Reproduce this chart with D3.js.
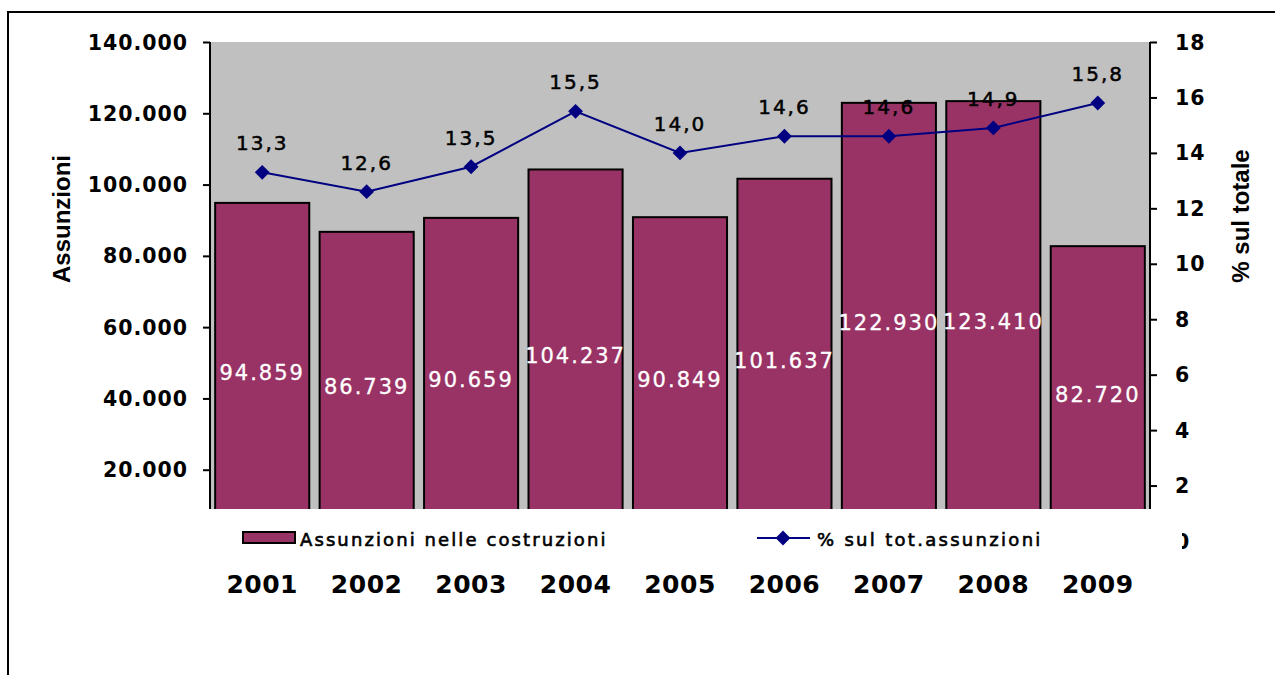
<!DOCTYPE html>
<html>
<head>
<meta charset="utf-8">
<script src="https://cdn.jsdelivr.net/npm/d3@7"></script>
<style>
  body { margin: 0; background: #fff; }
  svg text { font-family: "DejaVu Sans", Verdana, sans-serif; }
</style>
</head>
<body>
<svg id="chart" width="1275" height="675"></svg>
<script>
"use strict";

// data
var years = ["2001", "2002", "2003", "2004", "2005", "2006", "2007", "2008", "2009"];
var hires = [94859, 86739, 90659, 104237, 90849, 101637, 122930, 123410, 82720];
var share = [13.3, 12.6, 13.5, 15.5, 14.0, 14.6, 14.6, 14.9, 15.8];
var leftTicks = [20000, 40000, 60000, 80000, 100000, 120000, 140000];
var rightTicks = [0, 2, 4, 6, 8, 10, 12, 14, 16, 18];

var svg = d3.select("#chart");

var plotL = 210, plotR = 1150, plotT = 42, zeroY = 541, clipB = 509;

var fmtIt = v => d3.format(",")(v).replace(/,/g, ".");
var fmtDec = v => v.toFixed(1).replace(".", ",");

// outer frame
svg.append("rect")
    .attr("x", 8).attr("y", 12).attr("width", 1400).attr("height", 800)
    .attr("fill", "none").attr("stroke", "#000").attr("stroke-width", 2);

var x = d3.scaleBand().domain(years).range([plotL, plotR]).paddingInner(0.08).paddingOuter(0.04);
var xc = d3.scaleBand().domain(years).range([plotL, plotR]);
var yL = d3.scaleLinear().domain([0, 140000]).range([zeroY, plotT]);
var yR = d3.scaleLinear().domain([0, 18]).range([zeroY, plotT]);

svg.append("clipPath").attr("id", "plotClip")
    .append("rect").attr("x", plotL - 10).attr("y", plotT - 5)
    .attr("width", plotR - plotL + 20).attr("height", clipB - plotT + 5);

var plot = svg.append("g").attr("clip-path", "url(#plotClip)");

plot.append("rect")
    .attr("x", plotL).attr("y", plotT)
    .attr("width", plotR - plotL).attr("height", zeroY - plotT)
    .attr("fill", "#c0c0c0");

var bars = years.map((y, i) => ({year: y, v: hires[i], p: share[i]}));

plot.selectAll("rect.bar").data(bars).enter().append("rect")
    .attr("class", "bar")
    .attr("x", d => x(d.year) + 1)
    .attr("y", d => yL(d.v))
    .attr("width", x.bandwidth() - 2)
    .attr("height", d => zeroY - yL(d.v))
    .attr("fill", "#993366")
    .attr("stroke", "#000").attr("stroke-width", 2);

// axes
var axL = d3.axisLeft(yL).tickValues(leftTicks).tickSize(7).tickFormat("");
var gL = plot.append("g").attr("transform", "translate(" + plotL + ",0)").call(axL);
var gR = plot.append("g").attr("transform", "translate(" + plotR + ",0)")
    .call(d3.axisRight(yR).tickValues(rightTicks).tickSize(7).tickFormat(""));
[gL, gR].forEach(g => {
    g.select(".domain").attr("stroke", "#000").attr("stroke-width", 2)
        .attr("d", "M0," + plotT + "V" + zeroY);
    g.selectAll(".tick line").attr("stroke", "#000").attr("stroke-width", 2);
});

// tick labels (outside clip)
svg.append("g").selectAll("text").data(leftTicks).enter().append("text")
    .attr("x", 188).attr("y", d => yL(d) + 7.5)
    .attr("text-anchor", "end")
    .style("font-size", "20.5px").style("font-weight", "bold").style("letter-spacing", "1px")
    .text(fmtIt);

svg.append("clipPath").attr("id", "zeroClip")
    .append("rect").attr("x", 1182).attr("y", 520).attr("width", 30).attr("height", 40);

svg.append("g").selectAll("text").data(rightTicks).enter().append("text")
    .attr("x", 1175).attr("y", d => yR(d) + 7.5)
    .attr("clip-path", d => d === 0 ? "url(#zeroClip)" : null)
    .style("font-size", "20.5px").style("font-weight", "bold").style("letter-spacing", "1px")
    .text(d => d);

// bar value labels
plot.selectAll("text.bv").data(bars).enter().append("text")
    .attr("class", "bv")
    .attr("x", d => xc(d.year) + xc.bandwidth() / 2)
    .attr("y", d => (yL(d.v) + zeroY) / 2 + 8)
    .attr("text-anchor", "middle")
    .attr("fill", "#fff")
    .style("font-size", "21px").style("letter-spacing", "2px")
    .style("stroke", "#fff").style("stroke-width", 0.3)
    .text(d => fmtIt(d.v));

// line
var line = d3.line()
    .x(d => xc(d.year) + xc.bandwidth() / 2)
    .y(d => yR(d.p));

svg.append("path").datum(bars)
    .attr("d", line).attr("fill", "none")
    .attr("stroke", "#000080").attr("stroke-width", 2);

var diamond = d3.symbol().type(d3.symbolDiamond2).size(140);
svg.selectAll("path.pt").data(bars).enter().append("path")
    .attr("class", "pt")
    .attr("transform", d => "translate(" + (xc(d.year) + xc.bandwidth() / 2) + "," + yR(d.p) + ")")
    .attr("d", diamond).attr("fill", "#000080");

svg.selectAll("text.pv").data(bars).enter().append("text")
    .attr("class", "pv")
    .attr("x", d => xc(d.year) + xc.bandwidth() / 2)
    .attr("y", d => yR(d.p) - 22)
    .attr("text-anchor", "middle")
    .attr("fill", "#000")
    .style("font-size", "20px").style("letter-spacing", "2px")
    .style("stroke", "#000").style("stroke-width", 0.5)
    .text(d => fmtDec(d.p));

// category labels
svg.selectAll("text.yr").data(years).enter().append("text")
    .attr("class", "yr")
    .attr("x", d => xc(d) + xc.bandwidth() / 2)
    .attr("y", 593)
    .attr("text-anchor", "middle")
    .style("font-size", "25px").style("font-weight", "bold").style("letter-spacing", "0.5px")
    .text(d => d);

// axis titles
svg.append("text")
    .attr("transform", "translate(70,219) rotate(-90)")
    .attr("text-anchor", "middle")
    .style("font-family", "'Liberation Sans', Arial, sans-serif")
    .style("font-size", "24px").style("font-weight", "bold")
    .text("Assunzioni");

svg.append("text")
    .attr("transform", "translate(1249,216) rotate(-90)")
    .attr("text-anchor", "middle")
    .style("font-family", "'Liberation Sans', Arial, sans-serif")
    .style("font-size", "24px").style("font-weight", "bold")
    .text("% sul totale");

// legend
var lg = svg.append("g");
lg.append("rect").attr("x", 243).attr("y", 532).attr("width", 52).attr("height", 11)
    .attr("fill", "#993366").attr("stroke", "#000").attr("stroke-width", 2);
lg.append("text").attr("x", 300).attr("y", 546)
    .style("font-size", "18px").style("letter-spacing", "2.1px")
    .style("stroke", "#000").style("stroke-width", 0.6)
    .text("Assunzioni nelle costruzioni");
lg.append("line").attr("x1", 757).attr("x2", 810).attr("y1", 538).attr("y2", 538)
    .attr("stroke", "#000080").attr("stroke-width", 2);
lg.append("path").attr("transform", "translate(783,538)")
    .attr("d", diamond).attr("fill", "#000080");
lg.append("text").attr("x", 817).attr("y", 546)
    .style("font-size", "18px").style("letter-spacing", "2.3px")
    .style("stroke", "#000").style("stroke-width", 0.6)
    .text("% sul tot.assunzioni");
</script>
</body>
</html>
